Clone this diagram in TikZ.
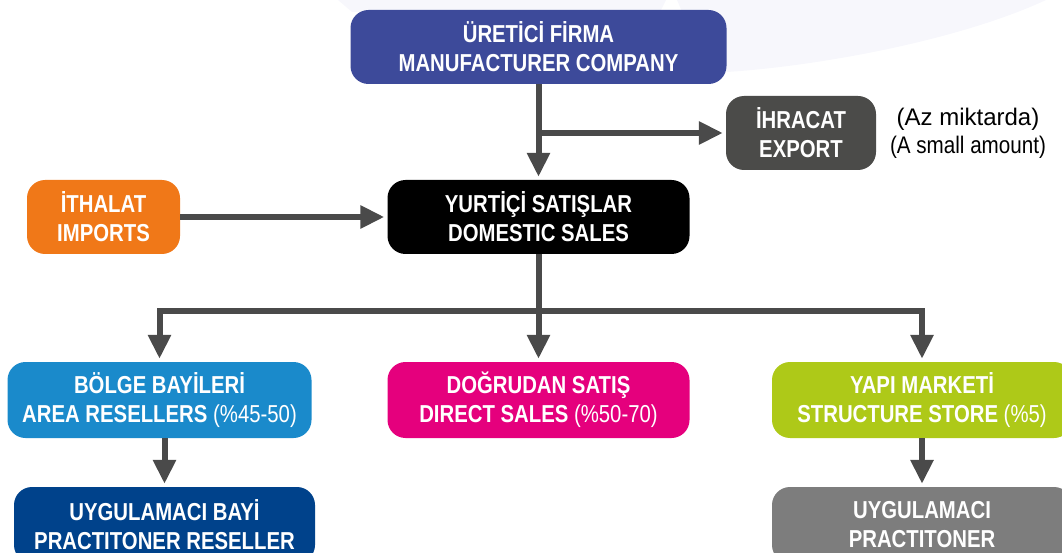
\documentclass[tikz,border=0pt]{standalone}
\usepackage{fontspec}
\setmainfont{Liberation Sans}
\newfontfamily\cfont[FakeStretch=0.83]{Liberation Sans}
\newfontfamily\wfont[FakeStretch=1.0]{Liberation Sans}
\newfontfamily\nfont[FakeStretch=0.86]{Liberation Sans}
\usetikzlibrary{arrows.meta}
\definecolor{cman}{HTML}{3D4A9A}
\definecolor{cexp}{HTML}{4B4B49}
\definecolor{cimp}{HTML}{F07818}
\definecolor{carea}{HTML}{1A8ACB}
\definecolor{cdir}{HTML}{E5007D}
\definecolor{cstore}{HTML}{AEC918}
\definecolor{cprs}{HTML}{00428B}
\definecolor{cprac}{HTML}{7D7D7D}
\definecolor{carrow}{HTML}{4A4A4A}
\definecolor{clav}{HTML}{F7F7FC}
\begin{document}
\begin{tikzpicture}[x=1pt,y=-1pt,
  mybox/.style={rounded corners=18pt, text=white, align=center, inner sep=0pt,
    minimum height=74pt, font=\cfont\bfseries\fontsize{24.5}{29}\selectfont},
  arr/.style={draw=carrow, line width=6pt, line join=miter,
    -{Triangle[length=24pt,width=22pt]}, shorten >=3pt}]
\useasboundingbox (0,0) rectangle (1062,553);
% light background shapes
\fill[clav] (338,0) -- (352,12) -- (660,12) -- (666,0) -- cycle;
\fill[clav] (677,0) .. controls (690,30) and (700,60) .. (727,72)
  .. controls (820,66) and (960,40) .. (1046,0) -- cycle;
% nodes
\node[mybox, fill=cman, minimum width=376pt] (man) at (538.5,47) {ÜRETİCİ FİRMA\\MANUFACTURER COMPANY};
\node[mybox, fill=cexp, minimum width=150pt] (exp) at (801,133) {İHRACAT\\EXPORT};
\node[align=center, inner sep=0pt] (note) at (968,133)
  {{\wfont\fontsize{24}{29}\selectfont (Az miktarda)}\\[5pt]{\nfont\fontsize{24}{27}\selectfont (A small amount)}};
\node[mybox, fill=black, minimum width=302pt] (dom) at (538.5,217) {YURTİÇİ SATIŞLAR\\DOMESTIC SALES};
\node[mybox, fill=cimp, minimum width=153pt] (imp) at (103.5,217) {İTHALAT\\IMPORTS};
\node[mybox, fill=carea, minimum width=304pt, minimum height=76pt] (area) at (159.5,400) {BÖLGE BAYİLERİ\\AREA RESELLERS {\mdseries(\%45-50)}};
\node[mybox, fill=cdir, minimum width=302pt, minimum height=76pt] (dir) at (538.5,400) {DOĞRUDAN SATIŞ\\DIRECT SALES {\mdseries(\%50-70)}};
\node[mybox, fill=cstore, minimum width=300pt, minimum height=76pt] (store) at (922,400) {YAPI MARKETİ\\STRUCTURE STORE {\mdseries(\%5)}};
\node[mybox, fill=cprs, minimum width=301pt, minimum height=76pt] (prs) at (164.5,525) {UYGULAMACI BAYİ\\PRACTITONER RESELLER};
\node[mybox, fill=cprac, minimum width=300pt, minimum height=76pt] (prac) at (922,525) {UYGULAMACI\\PRACTITONER};
% connectors
\coordinate (j) at (538.5,311);
\draw[arr] (man.south) -- (dom.north);
\draw[arr] (man.south |- exp.west) -- (exp.west);
\draw[arr] (imp.east) -- (dom.west);
\draw[arr] (dom.south) -- (dir.north);
\draw[arr] (j) -| (area.north);
\draw[arr] (j) -| (store.north);
\draw[arr] (prs.north |- area.south) -- (prs.north);
\draw[arr] (store.south) -- (prac.north);
\end{tikzpicture}
\end{document}
